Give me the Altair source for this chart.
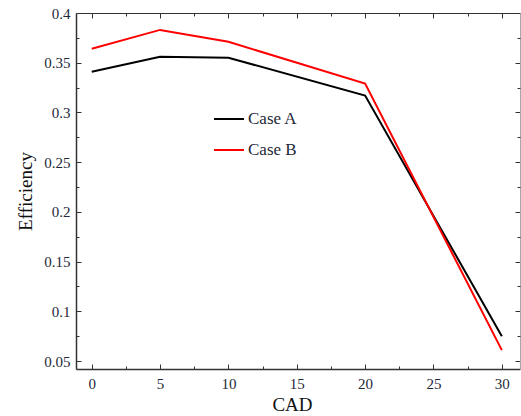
import altair as alt
import pandas as pd

cad = [0, 5, 10, 20, 30]
case_a = [0.341, 0.356, 0.355, 0.317, 0.075]
case_b = [0.364, 0.383, 0.371, 0.329, 0.061]
series_names = ["Case A", "Case B"]
x_major = [0, 5, 10, 15, 20, 25, 30]
x_minor = [2.5, 7.5, 12.5, 17.5, 22.5, 27.5]
y_major = [0.05, 0.1, 0.15, 0.2, 0.25, 0.3, 0.35, 0.4]
y_minor = [0.075, 0.125, 0.175, 0.225, 0.275, 0.325, 0.375]

rows = []
for name, vals in zip(series_names, [case_a, case_b]):
    for c, v in zip(cad, vals):
        rows.append({"CAD": c, "Efficiency": v, "series": name})
df = pd.DataFrame(rows)

W, H = 444, 356
XD = [-1.15, 31.33]
YD = [0.042, 0.4]
FONT = "Liberation Serif"
LBL = "#1e2838"
FRAME = "#333333"


def xs():
    return alt.Scale(domain=XD, nice=False, zero=False)


def ys():
    return alt.Scale(domain=YD, nice=False, zero=False)


main = alt.Chart(df).mark_line(strokeWidth=2).encode(
    x=alt.X("CAD:Q", scale=xs(), axis=alt.Axis(
        orient="bottom", values=x_major, ticks=False, labelPadding=7,
        labelFont=FONT, labelFontSize=15, labelColor=LBL, format="~g",
        domainColor=FRAME, domainWidth=1.5, title="CAD",
        titleFont=FONT, titleFontSize=19, titleFontWeight="normal",
        titleColor="#111", titlePadding=4, titleX=216)),
    y=alt.Y("Efficiency:Q", scale=ys(), axis=alt.Axis(
        orient="left", values=y_major, ticks=False, labelPadding=6,
        labelFont=FONT, labelFontSize=15, labelColor=LBL, format="~g",
        domainColor=FRAME, domainWidth=1.5, title="Efficiency",
        titleFont=FONT, titleFontSize=19, titleFontWeight="normal",
        titleColor="#111", titlePadding=8)),
    color=alt.Color("series:N", scale=alt.Scale(domain=series_names, range=["#000000", "#ff0000"]),
                    legend=alt.Legend(orient="none", legendX=137, legendY=90, title=None,
                                      symbolType="stroke", symbolSize=900, symbolStrokeWidth=2,
                                      labelFont=FONT, labelFontSize=17, labelColor=LBL,
                                      labelOffset=3, rowPadding=7, padding=0)),
)


def tick_layer(xorient, yorient, xvals, yvals, size, domain=False):
    return alt.Chart(df).mark_line(opacity=0).encode(
        x=alt.X("CAD:Q", scale=xs(), axis=alt.Axis(
            orient=xorient, offset=-H, values=xvals, tickSize=size,
            tickColor=FRAME, labels=False, domain=domain, domainColor=FRAME,
            title=None)),
        y=alt.Y("Efficiency:Q", scale=ys(), axis=alt.Axis(
            orient=yorient, offset=-W, values=yvals, tickSize=size,
            tickColor=FRAME, labels=False, domain=domain, domainColor="#a8a8a8",
            title=None)),
        detail="series:N",
    )


chart = alt.layer(
    main,
    tick_layer("top", "right", x_major, y_major, 5),
    tick_layer("top", "right", x_minor, y_minor, 3),
    tick_layer("bottom", "left", x_major, y_major, 5, domain=True),
    tick_layer("bottom", "left", x_minor, y_minor, 3),
).resolve_scale(x="independent", y="independent").properties(
    width=W, height=H,
    padding={"left": 76, "top": 13, "right": 1, "bottom": 47},
    autosize=alt.AutoSizeParams(type="none"),
).configure_axis(grid=False).configure_view(stroke=None)

chart.save("out.html", embed_options={"renderer": "svg", "actions": False})
